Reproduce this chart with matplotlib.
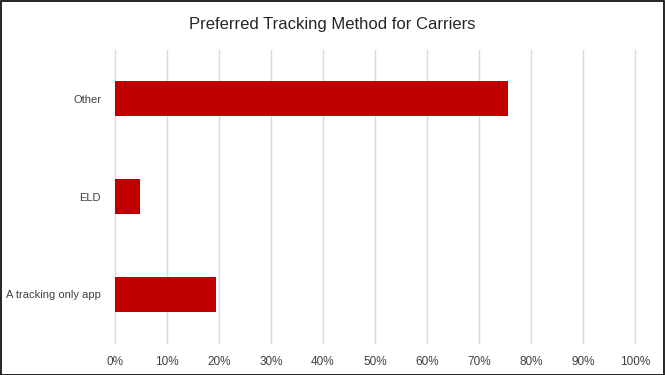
import matplotlib.pyplot as plt
from matplotlib.patches import Rectangle
from matplotlib.ticker import FuncFormatter

categories = ["A tracking only app", "ELD", "Other"]
values = [19.4, 4.9, 75.6]
ticks = list(range(0, 101, 10))

plt.rcParams['font.family'] = ['Liberation Sans', 'DejaVu Sans']

fig = plt.figure(figsize=(6.65, 3.75), dpi=100)
ax = fig.add_axes([0.1729, 0.0853, 0.782, 0.7814])

ax.barh(categories, values, height=0.36, color="#c00000", zorder=3)
ax.set_xlim(0, 100)
ax.set_ylim(-0.5, 2.5)
ax.set_xticks(ticks)
ax.xaxis.set_major_formatter(FuncFormatter(lambda v, p: f"{int(v)}%"))
ax.grid(axis="x", color="#d9d9d9", linewidth=1, zorder=0)
for g in ax.get_xgridlines():
    g.set_clip_on(False)
for s in ax.spines.values():
    s.set_visible(False)
ax.tick_params(axis="x", length=0, labelsize=8.5, colors="#404040", pad=9)
ax.tick_params(axis="y", length=0, labelsize=8, colors="#404040", pad=10)

fig.text(0.5, 0.935, "Preferred Tracking Method for Carriers", ha="center", va="center",
         fontsize=12, color="#262626")
fig.patches.append(Rectangle((0.001, 0.001), 0.997, 0.996, transform=fig.transFigure,
                             fill=False, edgecolor="black", linewidth=1.2))

fig.savefig("out.png", dpi=100)
